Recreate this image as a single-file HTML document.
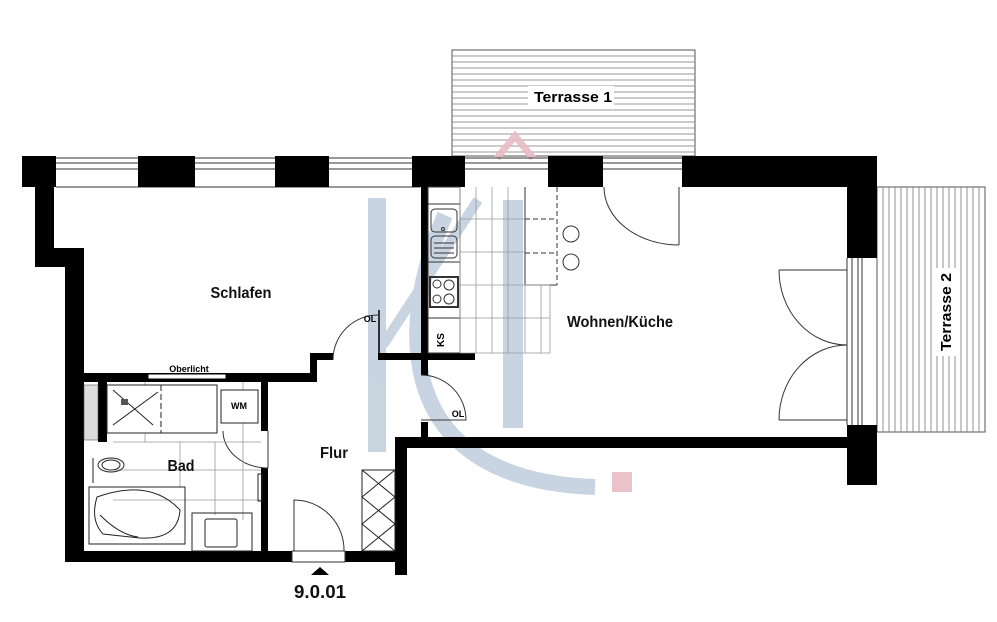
<!DOCTYPE html>
<html><head><meta charset="utf-8"><style>html,body{margin:0;padding:0;background:#fff}svg{display:block}text{font-family:"Liberation Sans",sans-serif}</style></head><body>
<svg width="997" height="622" viewBox="0 0 997 622" xmlns="http://www.w3.org/2000/svg">
<!-- Terrasse 1 -->
<rect x="452" y="50" width="243" height="106" fill="#fff" stroke="#555" stroke-width="1"/>
<g stroke="#777" stroke-width="0.8">
<path d="M452 56H695M452 62H695M452 68H695M452 74H695M452 80H695M452 86H695M452 92H695M452 98H695M452 104H695M452 110H695M452 116H695M452 122H695M452 128H695M452 134H695M452 140H695M452 146H695M452 152H695"/>
</g>
<rect x="528" y="86" width="86" height="20" fill="#fff"/>
<text x="573" y="102" font-size="15" font-weight="bold" text-anchor="middle" textLength="78" lengthAdjust="spacingAndGlyphs">Terrasse 1</text>
<!-- Terrasse 2 -->
<rect x="877" y="187" width="108" height="245" fill="#fff" stroke="#555"/>
<g stroke="#777" stroke-width="0.8">
<path d="M883 187V432M889 187V432M895 187V432M901 187V432M907 187V432M913 187V432M919 187V432M925 187V432M931 187V432M937 187V432M943 187V432M949 187V432M955 187V432M961 187V432M967 187V432M973 187V432M979 187V432"/>
</g>
<rect x="934" y="268" width="22" height="88" fill="#fff"/>
<text transform="translate(951,312) rotate(-90)" font-size="15" font-weight="bold" text-anchor="middle" textLength="78" lengthAdjust="spacingAndGlyphs">Terrasse 2</text>

<!-- logo -->
<g opacity="0.9">
<rect x="368" y="198" width="18" height="254" fill="#c3d0de"/>
<rect x="503" y="200" width="20" height="228" fill="#c3d0de"/>
<path d="M383 345 L478 200" stroke="#c3d0de" stroke-width="10" fill="none"/>
<path d="M445 215 C395 330 395 480 595 487" stroke="#c3d0de" stroke-width="16" fill="none"/>
<path d="M497 158 L515 136 L533 158" stroke="#e8bcc4" stroke-width="7" fill="none"/>
<rect x="612" y="472" width="20" height="20" fill="#e8bcc4"/>
</g>

<!-- windows on top wall -->
<g stroke="#333" stroke-width="1" fill="none">
<path d="M56 158H143M56 163H143M56 169H143M192 158H275M192 163H275M192 169H275M329 158H412M329 163H412M329 169H412M465 158H548M465 163H548M465 169H548M603 158H682M603 163H682M603 169H682"/>
<path d="M56 187H420"/>
</g>
<!-- walls -->
<g fill="#000">
<rect x="22" y="156" width="34" height="31"/>
<rect x="138" y="156" width="57" height="31"/>
<rect x="275" y="156" width="54" height="31"/>
<rect x="412" y="156" width="53" height="31"/>
<rect x="548" y="156" width="55" height="31"/>
<rect x="682" y="156" width="195" height="31"/>
<rect x="847" y="156" width="30" height="102"/>
<rect x="847" y="425" width="30" height="60"/>
<rect x="35" y="187" width="19" height="80"/>
<rect x="35" y="248" width="48" height="19"/>
<rect x="65" y="248" width="19" height="314"/>
<rect x="65" y="551" width="227" height="11"/>
<rect x="345" y="551" width="50" height="11"/>
<rect x="395" y="437" width="12" height="138"/>
<rect x="395" y="437" width="452" height="11"/>
<rect x="83" y="373" width="234" height="9"/>
<rect x="310" y="353" width="7" height="29"/>
<rect x="310" y="353" width="23" height="7"/>
<rect x="378" y="353" width="97" height="7"/>
<rect x="421" y="187" width="7" height="188"/>
<rect x="421" y="422" width="7" height="15"/>
<rect x="261" y="382" width="7" height="49"/>
<rect x="261" y="468" width="7" height="83"/>
<rect x="98" y="382" width="9" height="60"/>
</g>
<rect x="378" y="310" width="2" height="43" fill="#333"/>
<!-- Oberlicht -->
<rect x="148" y="374" width="78" height="5" fill="#fff" stroke="#000" stroke-width="1"/>
<text x="189" y="372" font-size="9" font-weight="bold" text-anchor="middle">Oberlicht</text>
<!-- right door frames -->
<g stroke="#333" fill="none" stroke-width="1">
<path d="M847 258V425M852 258V425M858 258V425M862 258V425"/>
<!-- doors -->
<path d="M679 187V245M604 187A75 58 0 0 0 679 245"/>
<path d="M779 270H847M779 270A68 75 0 0 0 847 345M779 420H847M779 420A68 75 0 0 1 847 345"/>
<path d="M333 360A45 45 0 0 1 378 315"/>
<path d="M421 375A45 45 0 0 1 466 420H421"/>
<path d="M268 431V468M223 431A45 37 0 0 0 268 468"/>
<path d="M294 551V500A50 50 0 0 1 344 551"/>
<rect x="292" y="551" width="53" height="11" fill="#fff"/>
<!-- kitchen -->
<rect x="428" y="187" width="32" height="166"/>
<path d="M428 204H460M428 262H460M428 318H460"/>
<rect x="431" y="209" width="26" height="23" rx="4"/>
<rect x="431" y="236" width="26" height="22" rx="4"/>
<path d="M434 243H454M434 248H454M434 253H454"/>
<circle cx="443" cy="229" r="1.5"/>
<rect x="430" y="277" width="28" height="30" stroke-width="2"/>
<circle cx="437" cy="284" r="4"/><circle cx="449" cy="285" r="5"/><circle cx="437" cy="299" r="4"/><circle cx="449" cy="299" r="5"/>
<circle cx="571" cy="234" r="8"/><circle cx="571" cy="262" r="8"/>
<path d="M525 187V285H557" />
<path d="M557 187V285M525 219H557M525 253H557" stroke-dasharray="5 3"/>
</g>
<g stroke="#999" stroke-width="0.8" fill="none">
<path d="M460 187V353M476 187V353M492 187V353M508 187V353M525 285V353M541 285V353M550 285V353M460 219H525M460 252H525M460 285H550M460 318H550M460 353H550"/>
<!-- bath tiles -->
<path d="M113 442H261M113 470H261M113 500H261M145 382V442M180 442V487M215 442V515M243 382V520"/>
</g>
<text x="444" y="340" font-size="10" font-weight="bold" transform="rotate(-90 444 340)" text-anchor="middle">KS</text>
<!-- bathroom fixtures -->
<g stroke="#222" fill="none" stroke-width="1">
<rect x="107" y="385" width="110" height="48" fill="#fff"/>
<path d="M161 385V433" stroke-dasharray="6 3"/>
<path d="M113 390L153 425M113 425L158 392"/>
<rect x="121" y="399" width="7" height="6" fill="#555" stroke="none"/>
<rect x="221" y="390" width="37" height="33" fill="#fff"/>
<rect x="89" y="487" width="96" height="57"/>
<path d="M97 497Q150 478 180 510Q178 540 140 538L103 534Q90 520 97 497Z"/>
<path d="M100 515Q120 535 138 537"/>
<ellipse cx="111" cy="465" rx="13" ry="7"/>
<ellipse cx="111" cy="465" rx="9" ry="5"/>
<path d="M93 458V483"/>
<rect x="192" y="513" width="60" height="38"/>
<rect x="205" y="519" width="32" height="28" rx="2"/>
<rect x="362" y="470" width="33" height="81"/>
<path d="M362 470L395 497M395 470L362 497M362 497L395 524M395 497L362 524M362 524L395 551M395 524L362 551"/>
<rect x="258" y="474" width="4" height="27"/>
</g>
<rect x="84" y="385" width="14" height="55" fill="#ddd" stroke="#555" stroke-width="0.6"/>
<text x="239" y="409" font-size="9" font-weight="bold" text-anchor="middle">WM</text>
<!-- labels -->
<g font-weight="bold" fill="#111">
<text x="241" y="298" font-size="16" text-anchor="middle" textLength="61" lengthAdjust="spacingAndGlyphs">Schlafen</text>
<text x="620" y="327" font-size="16" text-anchor="middle" textLength="106" lengthAdjust="spacingAndGlyphs">Wohnen/Küche</text>
<text x="181" y="471" font-size="16" text-anchor="middle" textLength="27" lengthAdjust="spacingAndGlyphs">Bad</text>
<text x="334" y="458" font-size="16" text-anchor="middle" textLength="28" lengthAdjust="spacingAndGlyphs">Flur</text>
<text x="320" y="598" font-size="18" text-anchor="middle" textLength="52" lengthAdjust="spacingAndGlyphs">9.0.01</text>
</g>
<text x="370" y="322" font-size="9" font-weight="bold" text-anchor="middle">OL</text>
<text x="458" y="417" font-size="9" font-weight="bold" text-anchor="middle">OL</text>
<path d="M311 575L320 567L329 575Z" fill="#000"/>
</svg>
</body></html>
